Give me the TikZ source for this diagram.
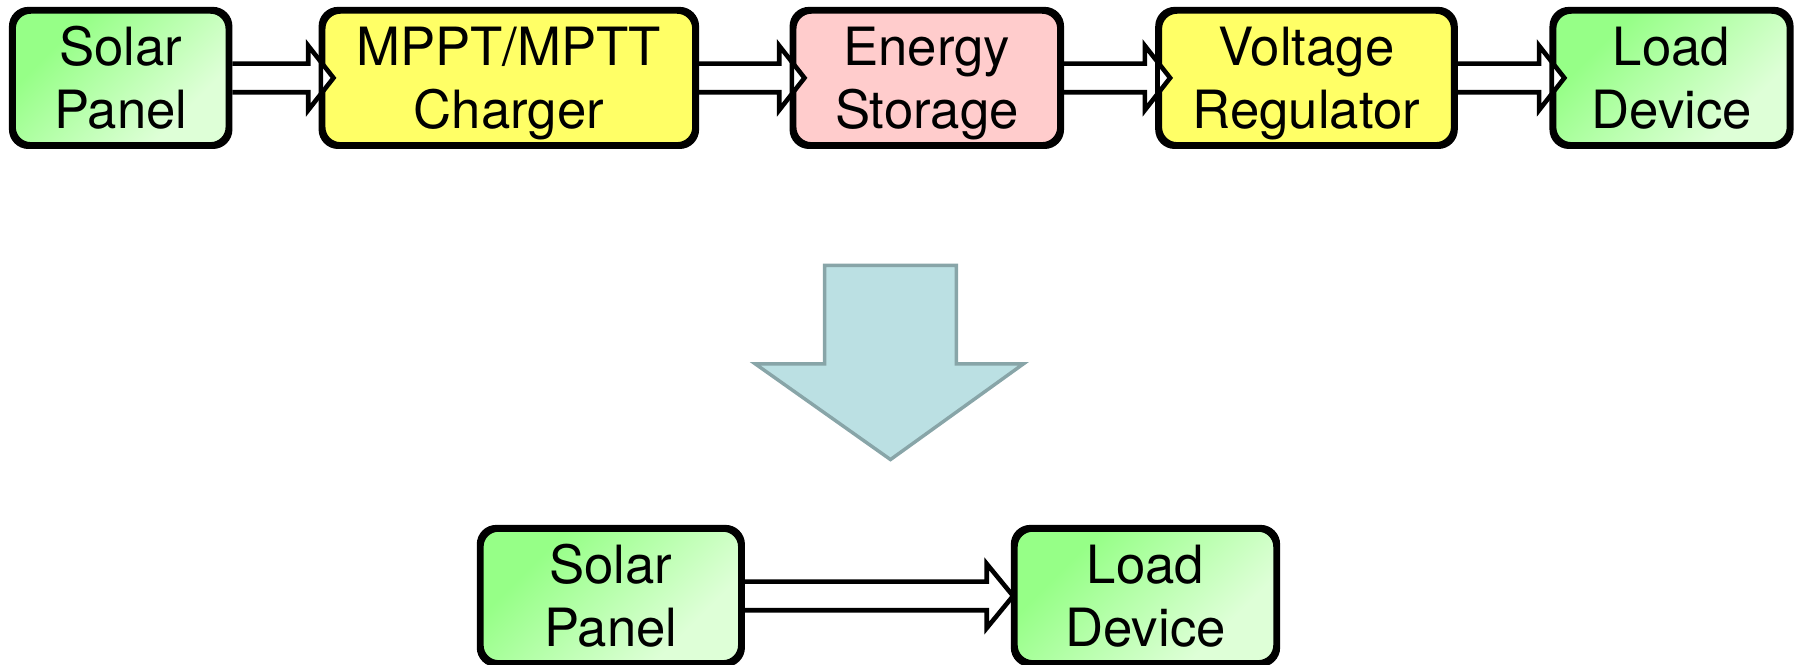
\documentclass[tikz,border=0pt]{standalone}
\usepackage{fontspec}
\setmainfont{TeX Gyre Heros}
\usetikzlibrary{calc}
\definecolor{gA}{RGB}{150,255,135}
\definecolor{gB}{RGB}{222,255,215}
\definecolor{yel}{RGB}{255,255,102}
\definecolor{pnk}{RGB}{255,204,204}
\definecolor{arF}{RGB}{187,224,227}
\definecolor{arD}{RGB}{136,165,168}
\pgfdeclareverticalshading{greendiag}{100bp}{color(0bp)=(gB); color(30bp)=(gB); color(70bp)=(gA); color(100bp)=(gA)}
\tikzset{
  blk/.style={rectangle, rounded corners=15pt, line width=4pt, draw=black,
    minimum height=116pt, inner sep=0pt, align=center,
    font=\fontsize{46}{55}\selectfont, text height=88pt, text depth=0pt},
  grn/.style={blk, shading=greendiag, shading angle=45},
  yelbox/.style={blk, fill=yel},
  pnkbox/.style={blk, fill=pnk},
  harr/.style={draw=black, fill=white, line width=4pt, line join=miter},
  rim/.style={draw=black, line width=4pt, rounded corners=15pt},
  bigarr/.style={draw=arD, fill=arF, line width=3pt, line join=miter}
}
\newcommand{\dblarrow}[5]{%
  \draw[harr] ($(#1.east)+(2,-12.5)$) -- ($(#2.west)+(#3-#4,-12.5)$)
    -- ($(#2.west)+(#3-#4,-#5)$) -- ($(#2.west)+(#3,0)$)
    -- ($(#2.west)+(#3-#4,#5)$) -- ($(#2.west)+(#3-#4,12.5)$)
    -- ($(#1.east)+(2,12.5)$);}
\begin{document}
\begin{tikzpicture}[x=1pt,y=-1pt]
\useasboundingbox (0,0) rectangle (1568,580);
% top row
\node[grn, minimum width=187pt] (sp1) at (105.3,68) {Solar\\Panel};
\node[yelbox, minimum width=324pt] (ch) at (444,68) {MPPT/MPTT\\Charger};
\node[pnkbox, minimum width=231.5pt] (es) at (808.7,68) {Energy\\Storage};
\node[yelbox, minimum width=256pt] (vr) at (1140,68) {Voltage\\Regulator};
\node[grn, minimum width=205pt] (ld1) at (1458.5,68) {Load\\Device};
% bottom row
\node[grn, minimum width=226pt] (sp2) at (533,520) {Solar\\Panel};
\node[grn, minimum width=227pt] (ld2) at (999.5,520) {Load\\Device};
% connectors
\dblarrow{sp1}{ch}{11}{22}{28}
\dblarrow{ch}{es}{11}{22}{28}
\dblarrow{es}{vr}{11}{22}{28}
\dblarrow{vr}{ld1}{11}{22}{28}
\dblarrow{sp2}{ld2}{0}{23}{28}
% box borders over arrow heads
\foreach \n in {sp1,ch,es,vr,ld1,sp2,ld2}
  \draw[rim] (\n.south west) rectangle (\n.north east);
% big down arrow
\draw[bigarr] (719.5,231.5) -- (834.5,231.5) -- (834.5,317.5) -- (893,317.5)
  -- (777,401) -- (659,317.5) -- (719.5,317.5) -- cycle;
\end{tikzpicture}
\end{document}
